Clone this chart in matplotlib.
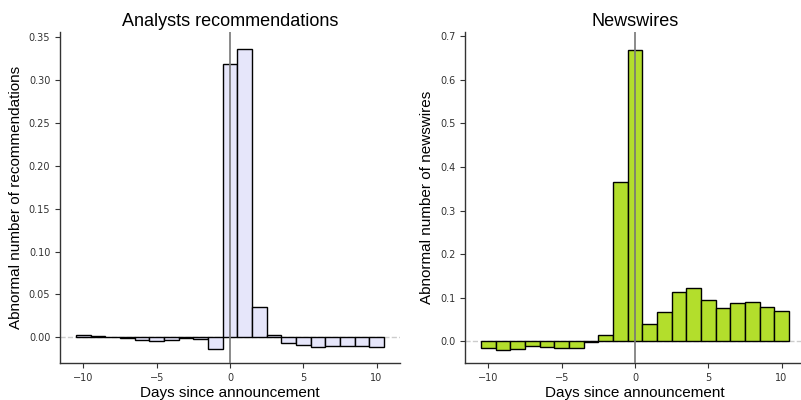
import matplotlib
matplotlib.use("Agg")
import matplotlib.pyplot as plt

# Days relative to the announcement
days = list(range(-10, 11))

# Abnormal number of analysts recommendations per day
recommendations = [0.0023, 0.0020, 0.0008, -0.0008, -0.0030, -0.0047, -0.0027,
                   -0.0012, -0.0023, -0.0140, 0.319, 0.336, 0.035, 0.0023,
                   -0.0066, -0.0093, -0.0113, -0.0105, -0.0105, -0.0105, -0.0113]

# Abnormal number of newswires per day
newswires = [-0.0145, -0.0200, -0.0176, -0.0107, -0.0130, -0.0153, -0.0160,
             -0.0015, 0.0138, 0.366, 0.668, 0.0406, 0.066, 0.112, 0.122,
             0.095, 0.0765, 0.087, 0.0895, 0.0796, 0.0696]

label_font = "Liberation Sans"


def draw_panel(ax, values, color, title, ylabel, ylim):
    """Draw one event-study bar panel"""
    ax.bar(days, values, width=1.0, color=color, edgecolor="black", linewidth=1.0, zorder=2)
    ax.axhline(0, color="#cccccc", linestyle="--", linewidth=1.0, zorder=1)
    ax.axvline(0, color="#777777", linewidth=1.2, zorder=3)
    ax.set_xlim(-11.6, 11.6)
    ax.set_ylim(*ylim)
    ax.set_xticks([-10, -5, 0, 5, 10])
    ax.set_title(title, fontsize=13, family=label_font, pad=4)
    ax.set_xlabel("Days since announcement", fontsize=11, family=label_font, labelpad=2)
    ax.set_ylabel(ylabel, fontsize=11, family=label_font, labelpad=4)
    ax.tick_params(labelsize=7, length=3.5, color="#333333", labelcolor="#333333")
    for side in ("top", "right"):
        ax.spines[side].set_visible(False)
    for side in ("left", "bottom"):
        ax.spines[side].set_color("#333333")
        ax.spines[side].set_linewidth(1.0)


fig = plt.figure(figsize=(8.01, 4.0), dpi=100)
ax1 = fig.add_axes([60 / 801, 37 / 400, 340 / 801, 331 / 400])
ax2 = fig.add_axes([465 / 801, 37 / 400, 340 / 801, 331 / 400])

draw_panel(ax1, recommendations, "#e6e6fa", "Analysts recommendations",
           "Abnormal number of recommendations", (-0.030, 0.356))
draw_panel(ax2, newswires, "#b3de2c", "Newswires",
           "Abnormal number of newswires", (-0.050, 0.710))

fig.savefig("out.png", dpi=100)
